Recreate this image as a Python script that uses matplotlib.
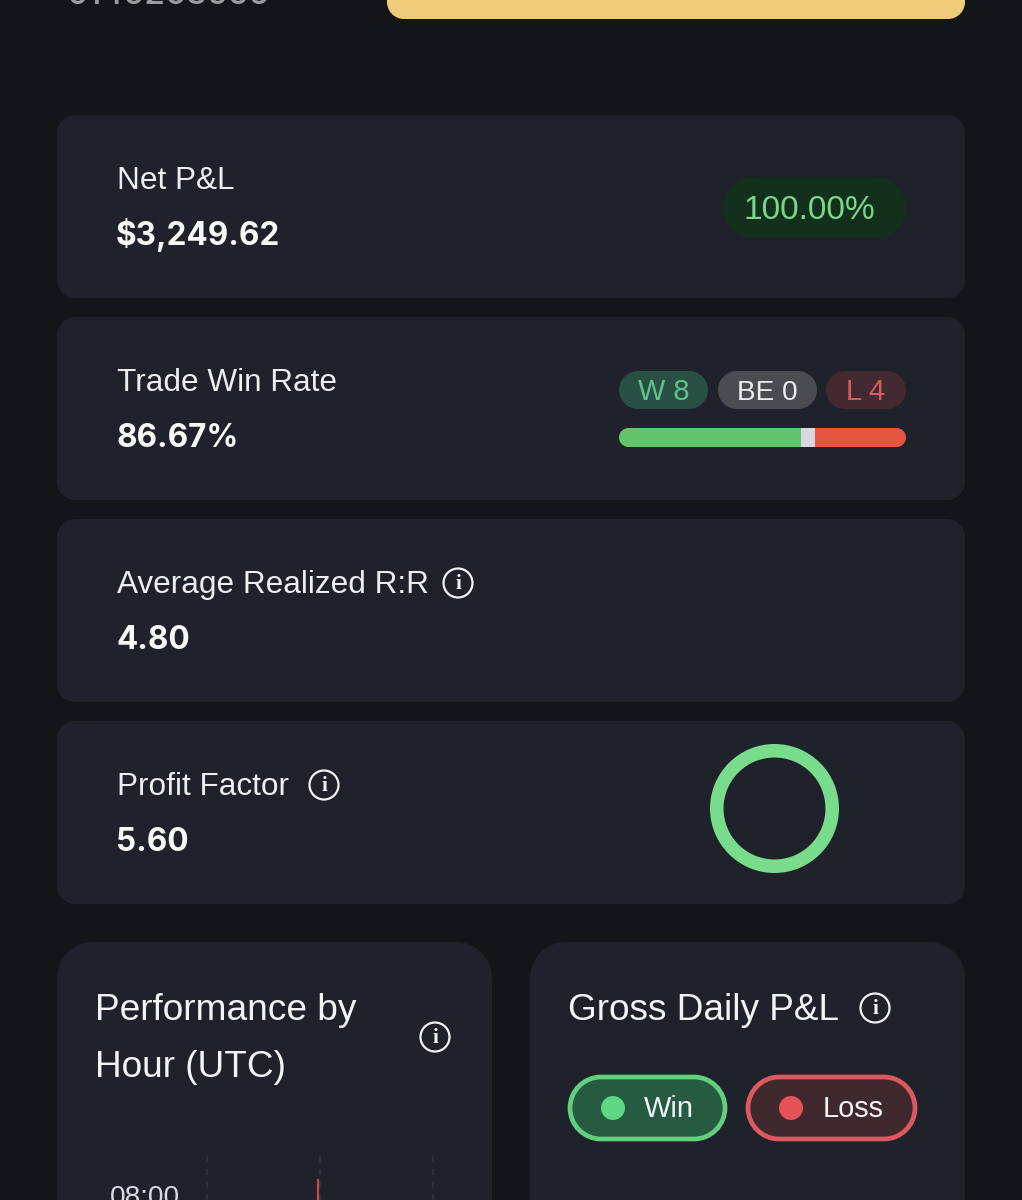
import numpy as np
import matplotlib
matplotlib.use("Agg")
import matplotlib.pyplot as plt
from matplotlib.patches import Circle, PathPatch
from matplotlib.path import Path

plt.rcParams['font.family'] = ['Liberation Sans', 'DejaVu Sans']

# values
card_labels = ["Net P&L", "Trade Win Rate", "Average Realized R:R", "Profit Factor"]
card_values = ["$3,249.62", "86.67%", "4.80", "5.60"]
pnl_badge = "100.00%"
count_labels = ["W 8", "BE 0", "L 4"]
bar_shares = [63.4, 4.9, 31.7]
bar_colors = ["#62c46a", "#d8d9e0", "#e5553f"]
ring_share = [100]
legend_labels = ["Win", "Loss"]
hour_label = "08:00"
hour_value = [-0.02]

BG = "#141518"
CARD = "#1f222b"
W, H = 1022, 1200

fig = plt.figure(figsize=(W / 100, H / 100), dpi=100, facecolor=BG)
ax = fig.add_axes([0, 0, 1, 1])
ax.set_xlim(0, W)
ax.set_ylim(H, 0)
ax.axis('off')


def px(size):
    return size * 0.72


def round_path(x0, y0, x1, y1, r):
    # real circular corners, the fancybox ones come out too square
    k = r * 0.448
    verts = [(x0 + r, y0), (x1 - r, y0),
             (x1 - k, y0), (x1, y0 + k), (x1, y0 + r),
             (x1, y1 - r),
             (x1, y1 - k), (x1 - k, y1), (x1 - r, y1),
             (x0 + r, y1),
             (x0 + k, y1), (x0, y1 - k), (x0, y1 - r),
             (x0, y0 + r),
             (x0, y0 + k), (x0 + k, y0), (x0 + r, y0),
             (x0 + r, y0)]
    codes = [Path.MOVETO, Path.LINETO,
             Path.CURVE4, Path.CURVE4, Path.CURVE4,
             Path.LINETO,
             Path.CURVE4, Path.CURVE4, Path.CURVE4,
             Path.LINETO,
             Path.CURVE4, Path.CURVE4, Path.CURVE4,
             Path.LINETO,
             Path.CURVE4, Path.CURVE4, Path.CURVE4,
             Path.CLOSEPOLY]
    return Path(verts, codes)


def rounded(x0, y0, x1, y1, r, color, edge='none', lw=0, z=1):
    p = PathPatch(round_path(x0, y0, x1, y1, r), fc=color, ec=edge, lw=lw, zorder=z)
    ax.add_patch(p)
    return p


def info_icon(x, y):
    ax.add_patch(Circle((x, y), 14.5, fc='none', ec='#f2f3f5', lw=1.6, zorder=3))
    ax.text(x, y + 1, "i", color='#f2f3f5', fontsize=px(21), ha='center', va='center',
            family=['Liberation Serif'], fontweight='bold', zorder=3)


# cut off top of the page
ax.text(66, 4, "0145263555", color='#9b9ca1', fontsize=px(33.5), ha='left',
        va='baseline', family=['Inter'], fontweight='medium')
rounded(387, -30, 965, 19, 17, "#efca78")

# stat cards
card_tops = [115, 317, 519, 721]
for i in range(4):
    top = card_tops[i]
    rounded(57, top, 965, top + 183, 18, CARD)
    ax.text(117, top + 74, card_labels[i], color='#eceef0', fontsize=px(31.5),
            ha='left', va='baseline')
    ax.text(116, top + 130, card_values[i], color='#f7f7f8', fontsize=px(31.5),
            ha='left', va='baseline', family=['Inter'], fontweight='bold')
info_icon(458, 583)
info_icon(324, 785)

# net p&l badge
rounded(723, 177, 906, 238, 30.5, "#12301b")
ax.text(809.5, 219, pnl_badge, color='#7cd68a', fontsize=px(33.5), ha='center', va='baseline')

# win / be / loss pills
pill_x = [(619, 708), (718, 817), (826, 906)]
pill_bg = ["#2a5045", "#4b4c52", "#432a30"]
pill_fg = ["#5fc38c", "#eceded", "#dc5a60"]
pill_size = [29, 28, 29]
for (x0, x1), bg, fg, txt, sz in zip(pill_x, pill_bg, pill_fg, count_labels, pill_size):
    rounded(x0, 371, x1, 409, 19, bg)
    ax.text((x0 + x1) / 2, 400, txt, color=fg, fontsize=px(sz), ha='center', va='baseline')

# stacked win rate bar
bar_ax = fig.add_axes([619 / W, 1 - 447 / H, 287 / W, 19 / H])
bar_ax.set_xlim(0, sum(bar_shares))
bar_ax.set_ylim(0, 1)
bar_ax.axis('off')
bar_clip = PathPatch(round_path(619, 428, 906, 447, 9.5), fc='none', ec='none')
ax.add_patch(bar_clip)
left = 0
for share, col in zip(bar_shares, bar_colors):
    b = bar_ax.barh(0.5, share, left=left, height=1, color=col)
    b[0].set_clip_path(bar_clip)
    left += share

# profit factor ring
ring_ax = fig.add_axes([710 / W, 1 - 873 / H, 129 / W, 129 / H])
ring_ax.pie(ring_share, colors=["#78dc8c"], radius=1.0, wedgeprops=dict(width=0.21))
ring_ax.set_xlim(-1, 1)
ring_ax.set_ylim(-1, 1)

# bottom cards
rounded(57, 942, 492, 1260, 36, CARD)
rounded(530, 942, 965, 1260, 36, CARD)
ax.text(95, 1020, "Performance by", color='#f2f3f5', fontsize=px(37), ha='left', va='baseline')
ax.text(95, 1077, "Hour (UTC)", color='#f2f3f5', fontsize=px(37), ha='left', va='baseline')
info_icon(435, 1037)
ax.text(568, 1020, "Gross Daily P&L", color='#f2f3f5', fontsize=px(37), ha='left', va='baseline')
info_icon(875, 1008)

# legend pills
rounded(570, 1077, 725, 1139, 31, "#265a41", edge="#62cf7f", lw=3.4, z=2)
ax.add_patch(Circle((613, 1108), 12, fc="#5ed884", ec='none', zorder=3))
ax.text(644, 1117, legend_labels[0], color='#f2f3f5', fontsize=px(29), ha='left', va='baseline', zorder=3)
rounded(748, 1077, 915, 1139, 31, "#40292e", edge="#dc5a5f", lw=3.4, z=2)
ax.add_patch(Circle((791, 1108), 12, fc="#e5525a", ec='none', zorder=3))
ax.text(823, 1117, legend_labels[1], color='#f2f3f5', fontsize=px(29), ha='left', va='baseline', zorder=3)

# hour chart, only its top shows
hour_ax = fig.add_axes([207 / W, 0, 226 / W, 1 - 1155 / H])
hour_ax.set_xlim(-1, 1)
hour_ax.set_ylim(1, 0)
hour_ax.patch.set_alpha(0)
for s in hour_ax.spines.values():
    s.set_visible(False)
hour_ax.set_xticks([])
hour_ax.set_yticks([])
for x in [-1, 0, 1]:
    hour_ax.axvline(x, color='#2d3039', lw=1.5, ls=(0, (3, 3)), clip_on=False)
hour_ax.vlines(hour_value, 0.53, 1, color='#c9474f', lw=1.6)
ax.text(145, 1205, hour_label, color='#d9dbe0', fontsize=px(28), ha='center', va='baseline')

fig.savefig("out.png", dpi=100, facecolor=BG)
